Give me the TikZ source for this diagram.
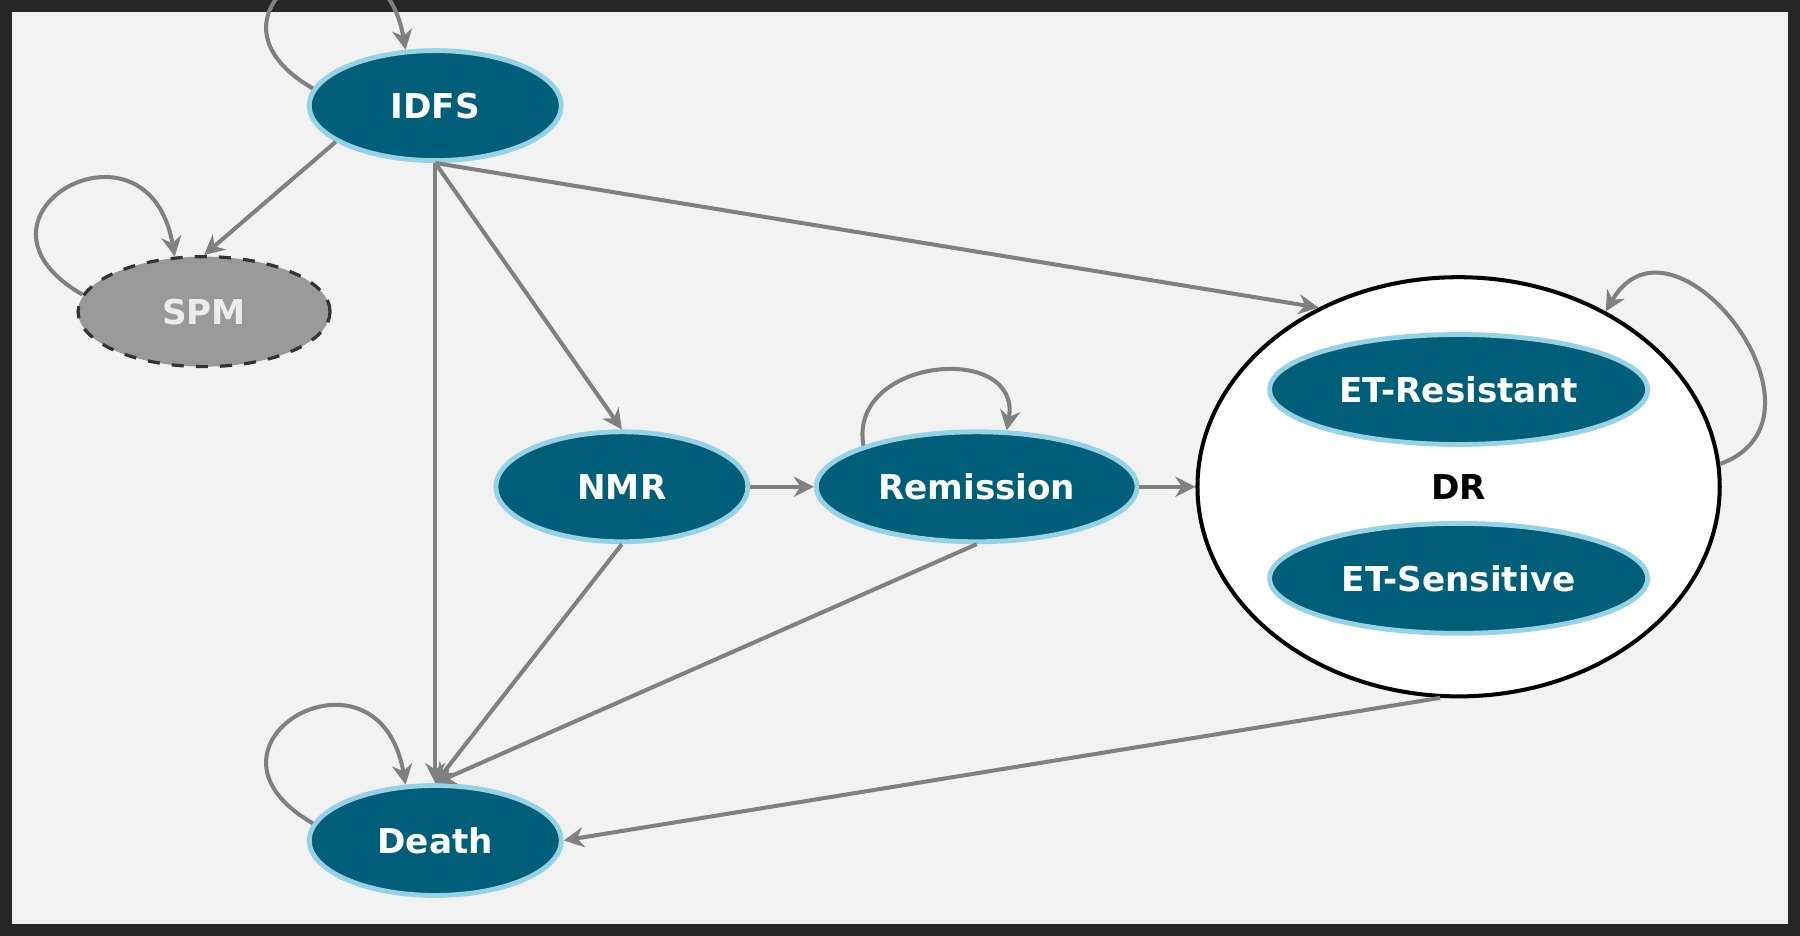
\documentclass[tikz,border=0pt]{standalone}
\usepackage{fontspec}
\setmainfont{DejaVu Sans}
\usepackage{tikz}
\usetikzlibrary{arrows.meta,shapes.geometric}
\definecolor{teal}{RGB}{0,95,120}
\definecolor{rim}{RGB}{150,210,230}
\definecolor{bgray}{RGB}{242,242,242}
\definecolor{lgray}{RGB}{128,128,128}
\begin{document}
\begin{tikzpicture}[x=0.01cm,y=-0.01cm,
state/.style={ellipse, inner sep=0pt, minimum width=2.2cm, minimum height=0.96cm, fill=teal, draw=rim, line width=1.2pt, text=white, font=\fontsize{8.5}{10}\selectfont\bfseries},
spm/.style={state, fill=lgray!80, draw=black!80, line width=0.8pt, dashed, text=white!85!gray},
group/.style={ellipse, inner sep=0pt, minimum width=4.56cm, minimum height=3.66cm, fill=white, draw=black, line width=1pt},
arrow/.style={draw=lgray, line width=1pt, -{Stealth[length=5pt,width=5pt]}},
]
% background and frame
\fill[bgray] (0,0) rectangle (1568,813);
\draw[black!85, line width=3pt] (3,3) rectangle (1565,810);
\useasboundingbox (0,0) rectangle (1568,813);

\node (idfs) [state] at (378,90) {IDFS};
\node (spm) [spm] at (176,270) {SPM};
\node (nmr) [state] at (541,423) {NMR};
\node (rem) [state, minimum width=2.8cm] at (851,423) {Remission};
\node (dr) [group] at (1272,423) {};
\node (etr) [state, minimum width=3.3cm] at (1272,338) {ET-Resistant};
\node (ets) [state, minimum width=3.3cm] at (1272,503) {ET-Sensitive};
\node (drlabel) at (1272,423) {\fontsize{8.5}{10}\selectfont\bfseries DR};
\node (death) [state] at (378,732) {Death};

\draw[arrow] (idfs.200) -- (spm.north);
\draw[arrow] (idfs.south) -- (death.north);
\draw[arrow] (idfs.south) -- (nmr.north);
\draw[arrow] (idfs.south) -- (dr.128);
\draw[arrow] (nmr.east) -- (rem.west);
\draw[arrow] (rem.east) -- (dr.west);
\draw[arrow] (nmr.south) -- (death.north);
\draw[arrow] (rem.south) -- (death.north);
\draw[arrow] (dr.265) -- (death.east);

% self loops
\draw[arrow] (idfs.172) to[out=150, in=100, looseness=4] (idfs.118);
\draw[arrow] (spm.172) to[out=150, in=100, looseness=4] (spm.118);
\draw[arrow] (death.172) to[out=150, in=100, looseness=4] (death.118);
\draw[arrow] (rem.160) to[out=100, in=80, looseness=1.6] (rem.62);
\draw[arrow] (dr.5) to[out=20, in=60, looseness=1.8] (dr.50);
\end{tikzpicture}
\end{document}
